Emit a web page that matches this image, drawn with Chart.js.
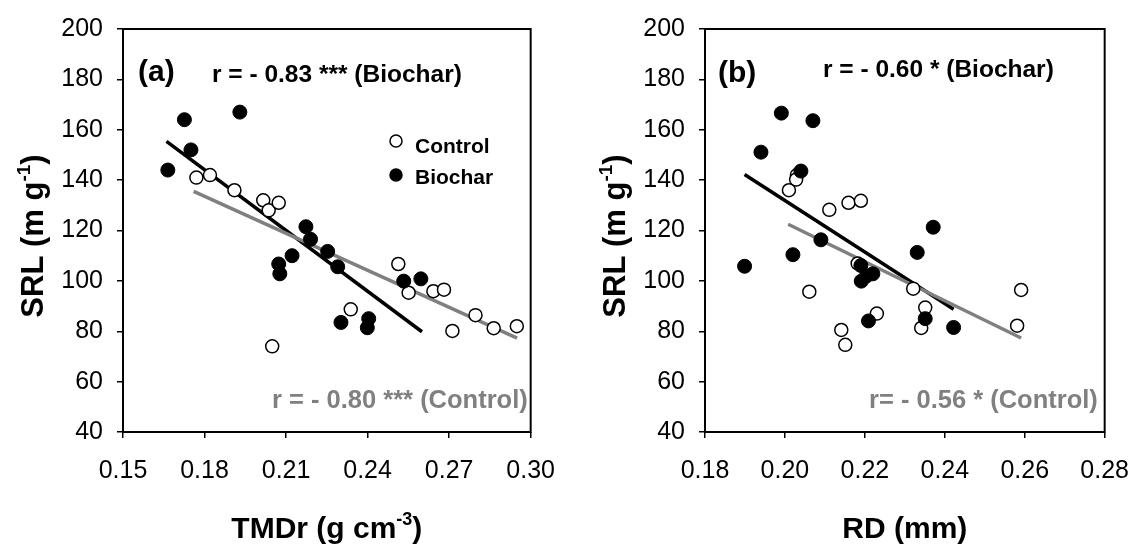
<!DOCTYPE html>
<html>
<head>
<meta charset="utf-8">
<script src="https://cdn.jsdelivr.net/npm/chart.js@4.4.1/dist/chart.umd.min.js"></script>
<style>
    body { margin: 0; background: #fff; }
    #page { position: relative; width: 1147px; height: 544px; overflow: hidden; }
    .panel { position: absolute; top: 0; height: 544px; }
    #wrap-a { left: 0; width: 573px; }
    #wrap-b { left: 573px; width: 574px; }
</style>
</head>
<body>
<div id="page">
    <div class="panel" id="wrap-a"><canvas id="chart-a"></canvas></div>
    <div class="panel" id="wrap-b"><canvas id="chart-b"></canvas></div>
</div>
<script>
// ---- data ----
const srlTicks = [40, 60, 80, 100, 120, 140, 160, 180, 200];
const tmdrTicks = [0.15, 0.18, 0.21, 0.24, 0.27, 0.30];
const rdTicks = [0.18, 0.20, 0.22, 0.24, 0.26, 0.28];

// (a) TMDr vs SRL
const tmdrControl = [0.177, 0.182, 0.191, 0.2016, 0.2036, 0.2073, 0.2049, 0.2338, 0.2513, 0.2551, 0.2642, 0.2681, 0.2797, 0.2712, 0.2864, 0.2949];
const srlControlA = [141, 142, 136, 132, 128, 131, 74, 88.7, 106.7, 95.3, 95.9, 96.5, 86.4, 80.1, 81.2, 82];
const tmdrBiochar = [0.1726, 0.193, 0.175, 0.1665, 0.2173, 0.219, 0.2073, 0.2122, 0.2077, 0.2253, 0.229, 0.2302, 0.2404, 0.2399, 0.2533, 0.2596];
const srlBiocharA = [164, 167, 152, 144, 121.5, 116.5, 106.7, 110, 102.8, 111.7, 105.6, 83.5, 85, 81.4, 99.9, 100.8];
const fitBiocharA = { x: [0.166, 0.260], y: [155.4, 79.8] };
const fitControlA = { x: [0.176, 0.295], y: [135.5, 77.3] };

// (b) RD vs SRL
const rdControl = [0.203, 0.2028, 0.201, 0.2111, 0.2159, 0.219, 0.2061, 0.2182, 0.2141, 0.2151, 0.223, 0.2321, 0.2351, 0.2341, 0.2591, 0.2581];
const srlControlB = [142, 140.2, 136, 128.2, 131, 131.8, 95.7, 106.9, 80.5, 74.6, 87, 96.9, 89.4, 81.3, 96.4, 82.2];
const rdBiochar = [0.1991, 0.207, 0.194, 0.204, 0.209, 0.202, 0.1899, 0.219, 0.2191, 0.2204, 0.2209, 0.222, 0.2331, 0.2371, 0.2351, 0.2422];
const srlBiocharB = [166.6, 163.6, 151.1, 143.6, 116.3, 110.4, 105.8, 106.1, 99.9, 101.9, 84.1, 102.8, 111.3, 121.3, 85, 81.5];
const fitBiocharB = { x: [0.1899, 0.2422], y: [142.2, 88.7] };
const fitControlB = { x: [0.2008, 0.2591], y: [122.5, 77.3] };

const FONT = '"Liberation Sans", Arial, sans-serif';
const GREY = '#808080';

function toPoints(xs, ys) {
    return xs.map((x, i) => ({ x: x, y: ys[i] }));
}

// text with one superscript part, centred on x
function drawTitle(ctx, parts, x, y, size) {
    const subSize = Math.round(size * 0.6);
    let total = 0;
    parts.forEach(p => {
        ctx.font = `bold ${p.sup ? subSize : size}px ${FONT}`;
        p.w = ctx.measureText(p.t).width;
        total += p.w;
    });
    let cx = x - total / 2;
    parts.forEach(p => {
        ctx.font = `bold ${p.sup ? subSize : size}px ${FONT}`;
        ctx.fillText(p.t, cx, p.sup ? y - size * 0.42 : y);
        cx += p.w;
    });
}

// frame, panel letter, r-values, legend and axis titles
const decorPlugin = {
    id: 'decor',
    afterDraw(chart, args, opts) {
        const ctx = chart.ctx;
        const a = chart.chartArea;
        ctx.save();
        ctx.strokeStyle = '#000';
        ctx.lineWidth = 2;
        ctx.strokeRect(a.left, a.top, a.right - a.left, a.bottom - a.top);

        ctx.textAlign = 'left';
        ctx.textBaseline = 'alphabetic';
        ctx.fillStyle = '#000';
        ctx.font = `bold 30px ${FONT}`;
        ctx.fillText(opts.letter, a.left + opts.letterPos[0], a.top + opts.letterPos[1]);

        ctx.font = `bold 24.5px ${FONT}`;
        ctx.fillText(opts.rBiochar, a.left + opts.rBiocharPos[0], a.top + opts.rBiocharPos[1]);

        ctx.fillStyle = GREY;
        ctx.font = `bold 25.5px ${FONT}`;
        ctx.fillText(opts.rControl, a.left + opts.rControlPos[0], a.top + opts.rControlPos[1]);

        if (opts.legend) {
            const lx = a.left + 273;
            const items = [
                { label: 'Control', fill: '#fff', dy: 112, ty: 124 },
                { label: 'Biochar', fill: '#000', dy: 146, ty: 155 }
            ];
            items.forEach(it => {
                ctx.beginPath();
                ctx.arc(lx, a.top + it.dy, 6, 0, Math.PI * 2);
                ctx.fillStyle = it.fill;
                ctx.fill();
                ctx.lineWidth = 1.5;
                ctx.strokeStyle = '#000';
                ctx.stroke();
                ctx.fillStyle = '#000';
                ctx.font = `bold 21px ${FONT}`;
                ctx.fillText(it.label, lx + 19, a.top + it.ty);
            });
        }

        // axis titles
        ctx.fillStyle = '#000';
        drawTitle(ctx, opts.xTitle, (a.left + a.right) / 2, 538, 30);
        ctx.translate(a.left - 80, 236);
        ctx.rotate(-Math.PI / 2);
        drawTitle(ctx, [{ t: 'SRL (m g' }, { t: '-1', sup: true }, { t: ')' }], 0, 0, 31);
        ctx.restore();
    }
};

function makePanel(id, p) {
    const ctx = document.getElementById(id).getContext('2d');
    return new Chart(ctx, {
        type: 'scatter',
        data: {
            datasets: [
                {
                    label: 'Biochar',
                    data: toPoints(p.bx, p.by),
                    backgroundColor: '#000',
                    borderColor: '#000',
                    borderWidth: 1,
                    pointRadius: 7,
                    order: 1
                },
                {
                    label: 'Control',
                    data: toPoints(p.cx, p.cy),
                    backgroundColor: '#fff',
                    borderColor: '#000',
                    borderWidth: 1.5,
                    pointRadius: 6.5,
                    order: 2
                },
                {
                    type: 'line',
                    label: 'Biochar fit',
                    data: toPoints(p.fitB.x, p.fitB.y),
                    borderColor: '#000',
                    borderWidth: 3.5,
                    pointRadius: 0,
                    order: 4
                },
                {
                    type: 'line',
                    label: 'Control fit',
                    data: toPoints(p.fitC.x, p.fitC.y),
                    borderColor: GREY,
                    borderWidth: 3.5,
                    pointRadius: 0,
                    order: 3
                }
            ]
        },
        options: {
            responsive: true,
            maintainAspectRatio: false,
            animation: false,
            layout: { padding: { left: 0, right: p.padRight, top: 26, bottom: 0 } },
            plugins: {
                legend: { display: false },
                tooltip: { enabled: false },
                decor: p.decor
            },
            scales: {
                x: {
                    type: 'linear',
                    min: p.xTicks[0],
                    max: p.xTicks[p.xTicks.length - 1],
                    afterBuildTicks: s => { s.ticks = p.xTicks.map(v => ({ value: v })); },
                    afterFit: s => { s.height = 112; },
                    ticks: {
                        callback: v => Number(v).toFixed(2),
                        font: { family: FONT, size: 25 },
                        color: '#000',
                        padding: 18,
                        maxRotation: 0,
                        autoSkip: false
                    },
                    grid: { drawOnChartArea: false, color: '#000', lineWidth: 1.5, tickLength: 6 },
                    border: { display: false }
                },
                y: {
                    min: 40,
                    max: 200,
                    afterBuildTicks: s => { s.ticks = srlTicks.map(v => ({ value: v })); },
                    afterFit: s => { s.width = p.yWidth; },
                    ticks: {
                        font: { family: FONT, size: 25 },
                        color: '#000',
                        padding: 14
                    },
                    grid: { drawOnChartArea: false, color: '#000', lineWidth: 1.5, tickLength: 6 },
                    border: { display: false }
                }
            }
        },
        plugins: [decorPlugin]
    });
}

makePanel('chart-a', {
    bx: tmdrBiochar, by: srlBiocharA,
    cx: tmdrControl, cy: srlControlA,
    fitB: fitBiocharA, fitC: fitControlA,
    xTicks: tmdrTicks,
    yWidth: 123,
    padRight: 39,
    decor: {
        letter: '(a)', letterPos: [15, 52],
        rBiochar: 'r = - 0.83 *** (Biochar)', rBiocharPos: [89, 53],
        rControl: 'r = - 0.80 *** (Control)', rControlPos: [149, 379],
        legend: true,
        xTitle: [{ t: 'TMDr (g cm' }, { t: '-3', sup: true }, { t: ')' }]
    }
});

makePanel('chart-b', {
    bx: rdBiochar, by: srlBiocharB,
    cx: rdControl, cy: srlControlB,
    fitB: fitBiocharB, fitC: fitControlB,
    xTicks: rdTicks,
    yWidth: 132,
    padRight: 29,
    decor: {
        letter: '(b)', letterPos: [13, 53],
        rBiochar: 'r = - 0.60 * (Biochar)', rBiocharPos: [118, 48],
        rControl: 'r= - 0.56 * (Control)', rControlPos: [164, 379],
        legend: false,
        xTitle: [{ t: 'RD (mm)' }]
    }
});
</script>
</body>
</html>
